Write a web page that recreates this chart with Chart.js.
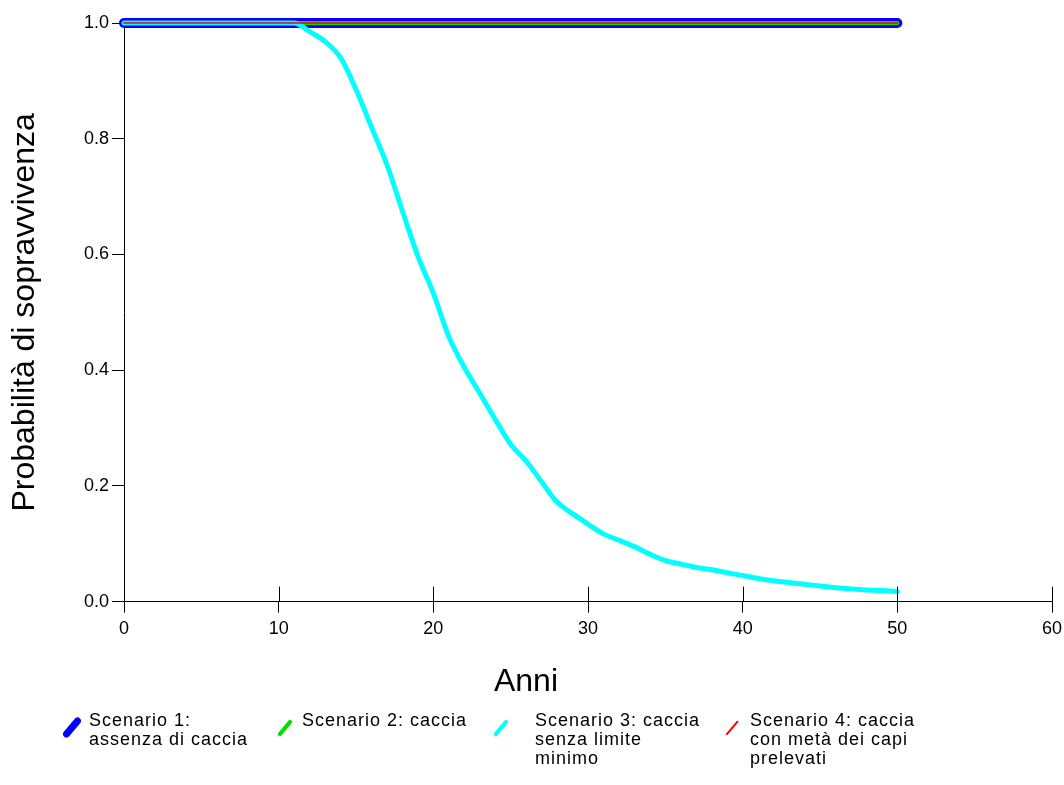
<!DOCTYPE html>
<html lang="it">
<head>
<meta charset="utf-8">
<title>Probabilità di sopravvivenza</title>
<script src="https://cdn.jsdelivr.net/npm/chart.js@4.4.1/dist/chart.umd.min.js"></script>
<style>
    html, body { margin: 0; padding: 0; background: #fff; }
    #wrap { position: relative; width: 1064px; height: 785px; }
    #grafico { position: absolute; left: 0; top: 0; }
    .voce {
        position: absolute; top: 711px;
        font: 18px "Liberation Sans", Arial, sans-serif;
        line-height: 19px; letter-spacing: 1px; color: #000; white-space: pre;
    }
    .segno { position: absolute; transform: rotate(-50deg); }
</style>
</head>
<body>
<div id="wrap">
    <canvas id="grafico" width="1064" height="785"></canvas>
    <div id="legenda"></div>
</div>
<script>
// Anni di simulazione
const anni = [0, 1, 2, 3, 4, 5, 6, 7, 8, 9, 10, 11, 12, 13, 14, 15, 16, 17, 18, 19, 20,
    21, 22, 23, 24, 25, 26, 27, 28, 29, 30, 31, 32, 33, 34, 35, 36, 37, 38, 39, 40,
    41, 42, 43, 44, 45, 46, 47, 48, 49, 50];

// Probabilità di sopravvivenza per scenario
const scenario1 = [1, 1, 1, 1, 1, 1, 1, 1, 1, 1, 1, 1, 1, 1, 1, 1, 1, 1, 1, 1, 1,
    1, 1, 1, 1, 1, 1, 1, 1, 1, 1, 1, 1, 1, 1, 1, 1, 1, 1, 1, 1,
    1, 1, 1, 1, 1, 1, 1, 1, 1, 1];
const scenario2 = [1, 1, 1, 1, 1, 1, 1, 1, 1, 1, 1, 1, 1, 1, 1, 1, 1, 1, 1, 1, 1,
    1, 1, 1, 1, 1, 1, 1, 1, 1, 1, 1, 1, 1, 1, 1, 1, 1, 1, 1, 1,
    1, 1, 1, 1, 1, 1, 1, 1, 1, 1];
const scenario3 = [1, 1, 1, 1, 1, 1, 1, 1, 1, 1, 1, 1, 0.985, 0.968, 0.94, 0.885, 0.82, 0.755, 0.675, 0.597, 0.533,
    0.458, 0.405, 0.36, 0.315, 0.272, 0.243, 0.207, 0.172, 0.152, 0.134, 0.117, 0.106, 0.095, 0.082, 0.071, 0.065, 0.059, 0.055, 0.05, 0.045,
    0.04, 0.036, 0.033, 0.03, 0.027, 0.024, 0.022, 0.02, 0.019, 0.017];
const scenario4 = [1, 1, 1, 1, 1, 1, 1, 1, 1, 1, 1, 1, 1, 1, 1, 1, 1, 1, 1, 1, 1,
    1, 1, 1, 1, 1, 1, 1, 1, 1, 1, 1, 1, 1, 1, 1, 1, 1, 1, 1, 1,
    1, 1, 1, 1, 1, 1, 1, 1, 1, 1];

const etichette = [
    'Scenario 1:\nassenza di caccia',
    'Scenario 2: caccia',
    'Scenario 3: caccia\nsenza limite\nminimo',
    'Scenario 4: caccia\ncon metà dei capi\nprelevati'
];

// Stile delle linee (blu sotto, rosso sopra)
const colori = ['#0000ff', '#00e000', '#00ffff', '#ff0000'];
const spessori = [10, 4, 5, 1.5];
const serie = [scenario1, scenario2, scenario3, scenario4];

const FONT = '"Liberation Sans", Arial, sans-serif';

// Tacche dell'asse x che attraversano l'asse verso l'interno
const tacchePlugin = {
    id: 'tacche',
    afterDraw(chart) {
        const ctx = chart.ctx;
        const x = chart.scales.x;
        const bottom = chart.chartArea.bottom;
        ctx.save();
        ctx.strokeStyle = '#000';
        ctx.lineWidth = 1;
        x.ticks.forEach(t => {
            const px = Math.round(x.getPixelForValue(t.value)) + 0.5;
            ctx.beginPath();
            ctx.moveTo(px, bottom);
            ctx.lineTo(px, bottom - 15);
            ctx.stroke();
        });
        ctx.restore();
    }
};

new Chart(document.getElementById('grafico'), {
    type: 'line',
    data: {
        datasets: serie.map((s, i) => ({
            label: etichette[i],
            data: anni.map((a, j) => ({ x: a, y: s[j] })),
            borderColor: colori[i],
            borderWidth: spessori[i],
            borderCapStyle: 'round',
            borderJoinStyle: 'round',
            cubicInterpolationMode: 'monotone',
            pointRadius: 0,
            clip: false,
            order: 4 - i
        }))
    },
    options: {
        responsive: false,
        animation: false,
        layout: { padding: { top: 23, right: 12, left: 0, bottom: 0 } },
        plugins: {
            legend: { display: false },
            tooltip: { enabled: false },
            title: {
                display: true,
                text: 'Anni',
                position: 'bottom',
                color: '#000',
                font: { family: FONT, size: 32, weight: 'normal' },
                padding: { top: 16, bottom: 84 }
            }
        },
        scales: {
            x: {
                type: 'linear',
                min: 0,
                max: 60,
                ticks: { stepSize: 10, color: '#000', padding: 6, font: { family: FONT, size: 18 } },
                grid: { drawOnChartArea: false, tickLength: 11, color: '#000' },
                border: { color: '#000', width: 1 },
                afterFit(scale) {
                    scale.height = 45;
                    scale.paddingLeft = 0;
                    scale.paddingRight = 0;
                }
            },
            y: {
                min: 0,
                max: 1,
                ticks: {
                    stepSize: 0.2, color: '#000', padding: 3,
                    font: { family: FONT, size: 18 },
                    callback: v => v.toFixed(1)
                },
                grid: { drawOnChartArea: false, tickLength: 12, color: '#000' },
                border: { color: '#000', width: 1 },
                title: {
                    display: true,
                    text: 'Probabilità di sopravvivenza',
                    color: '#000',
                    font: { family: FONT, size: 32, weight: 'normal' },
                    padding: { top: 6, bottom: 0 }
                },
                afterFit(scale) { scale.width = 124; }
            }
        }
    },
    plugins: [tacchePlugin]
});

// Legenda sotto il grafico
const posTesto = [89, 302, 535, 750];
const segni = [
    { cx: 72, cy: 727, len: 24, h: 7 },
    { cx: 285, cy: 728, len: 20, h: 4 },
    { cx: 501, cy: 728, len: 20, h: 4 },
    { cx: 732, cy: 728, len: 18, h: 1.5 }
];
const legenda = document.getElementById('legenda');
etichette.forEach((t, i) => {
    const s = segni[i];
    const seg = document.createElement('div');
    seg.className = 'segno';
    seg.style.width = s.len + 'px';
    seg.style.height = s.h + 'px';
    seg.style.left = (s.cx - s.len / 2) + 'px';
    seg.style.top = (s.cy - s.h / 2) + 'px';
    seg.style.background = colori[i];
    seg.style.borderRadius = (s.h / 2) + 'px';
    legenda.appendChild(seg);

    const txt = document.createElement('div');
    txt.className = 'voce';
    txt.style.left = posTesto[i] + 'px';
    txt.textContent = t;
    legenda.appendChild(txt);
});
</script>
</body>
</html>
